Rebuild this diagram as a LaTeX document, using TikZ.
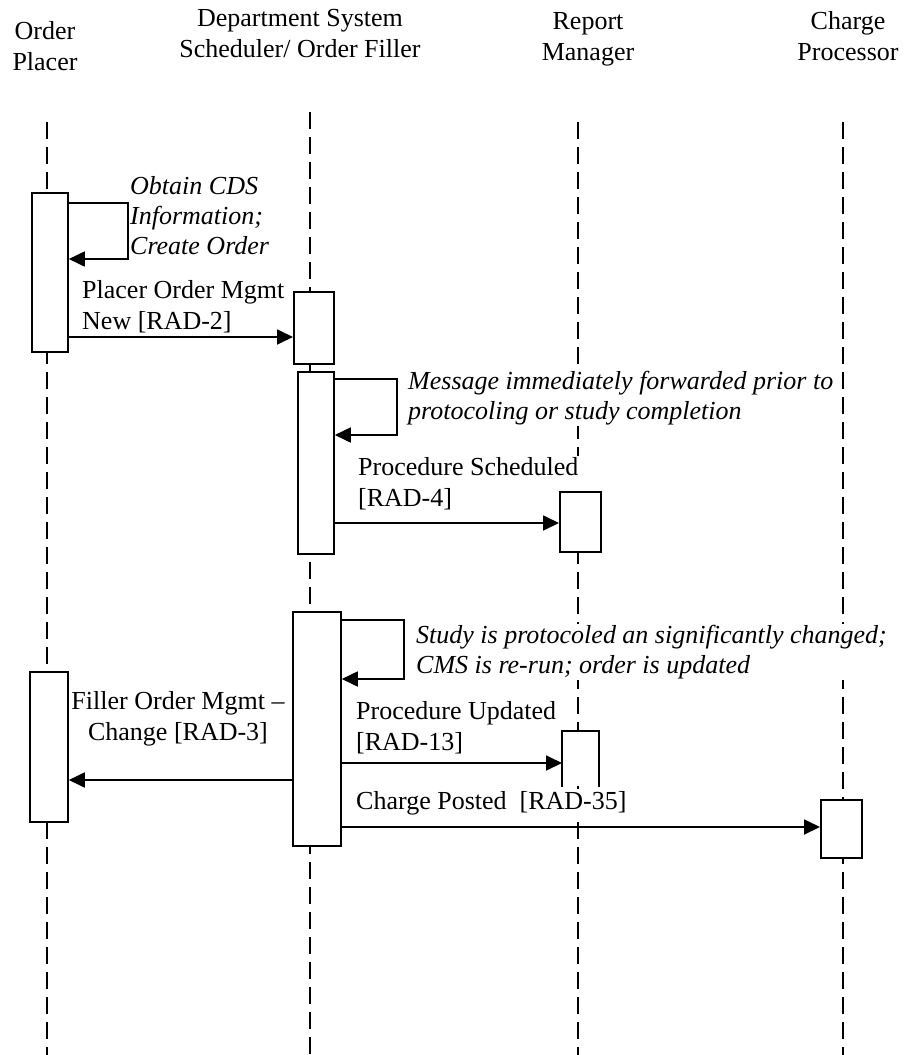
\documentclass[tikz,border=0pt]{standalone}
\usepackage{fontspec}
\setmainfont{Liberation Serif}
\usetikzlibrary{arrows.meta,positioning,calc}
\tikzset{
  lifeline/.style={line width=1.4pt,dash pattern=on 17pt off 8pt},
  actbox/.style={draw,fill=white,line width=1.8pt,inner sep=0pt,anchor=north west},
  msg/.style={line width=1.8pt,-{Triangle[length=16pt,width=15pt]}},
  msglabel/.style={fill=white,inner sep=1pt,align=left,anchor=north west,font=\fontsize{26}{31}\selectfont},
  note/.style={msglabel,font=\fontsize{26}{30}\selectfont\itshape},
  actor/.style={align=center,anchor=north,inner sep=0pt,font=\fontsize{26}{31}\selectfont}
}

\begin{document}
\begin{tikzpicture}[x=1pt,y=1pt]
\useasboundingbox (0,0) rectangle (906,-1055);
\node[actor] (placer) at (45,-21) {Order\\Placer};
\node[actor] (filler) at (300,-9) {Department System\\Scheduler/ Order Filler};
\node[actor] (report) at (588,-12) {Report\\Manager};
\node[actor] (charge) at (848,-11) {Charge\\Processor};
\coordinate (placer top) at (47,-122);
\coordinate (filler top) at (310,-112);
\coordinate (report top) at (578,-122);
\coordinate (charge top) at (843,-122);
\draw[lifeline] (placer top) -- (placer top |- 0,-1055);
\draw[lifeline] (filler top) -- (filler top |- 0,-1055);
\draw[lifeline] (report top) -- (report top |- 0,-1055);
\draw[lifeline] (charge top) -- (charge top |- 0,-1055);
\node[note] (cds) at (129,-175) {Obtain CDS\\Information;\\Create Order};
\node[msglabel] (rad2) at (81,-279) {Placer Order Mgmt\\New [RAD-2]};
\node[note,inner xsep=5pt] (fwd) at (403,-370) {Message immediately forwarded prior to\\protocoling or study completion};
\node[msglabel] (rad4) at (357,-456) {Procedure Scheduled\\{[RAD-4]}};
\node[note] (cms) at (415,-624) {Study is protocoled an significantly changed;\\CMS is re-run; order is updated};
\node[msglabel,align=center,anchor=north] (rad3) at (178,-690) {Filler Order Mgmt --\\Change [RAD-3]};
\node[msglabel] (rad13) at (355,-700) {Procedure Updated\\{[RAD-13]}};
\node[msglabel] (rad35) at (355,-790) {Charge Posted\ \ [RAD-35]};
\node[actbox,minimum width=36pt,minimum height=159pt] (placer1) at (31,-192) {};
\node[actbox,minimum width=40pt,minimum height=72pt] (filler1) at (293,-291) {};
\node[actbox,minimum width=36pt,minimum height=182pt] (filler2) at (297,-371) {};
\node[actbox,minimum width=41pt,minimum height=60pt] (report1) at (559,-491) {};
\node[actbox,minimum width=48pt,minimum height=234pt] (filler3) at (292,-611) {};
\node[actbox,minimum width=38pt,minimum height=150pt] (placer2) at (29,-671) {};
\node[actbox,draw=none,minimum width=35pt,minimum height=54pt] (report2) at (562,-731) {};
\draw[line width=1.8pt] (report2.south west) |- (report2.north east) -- (report2.south east);
\node[actbox,minimum width=41pt,minimum height=58pt] (charge1) at (820,-799) {};
\draw[msg] (placer1.east |- 0,-203) -- (128,-203) -- (128,-259) -- (placer1.east |- 0,-259);
\draw[msg] (placer1.east |- 0,-337) -- (filler1.west |- 0,-337);
\draw[msg] (filler2.east |- 0,-379) -- (397,-379) -- (397,-435) -- (filler2.east |- 0,-435);
\draw[msg] (filler2.east |- 0,-523) -- (report1.west |- 0,-523);
\draw[msg] (filler3.east |- 0,-620) -- (404,-620) -- (404,-679) -- (filler3.east |- 0,-679);
\draw[msg] (filler3.west |- 0,-780) -- (placer2.east |- 0,-780);
\draw[msg] (filler3.east |- 0,-763) -- (report2.west |- 0,-763);
\draw[msg] (filler3.east |- 0,-827) -- (charge1.west |- 0,-827);
\end{tikzpicture}
\end{document}
